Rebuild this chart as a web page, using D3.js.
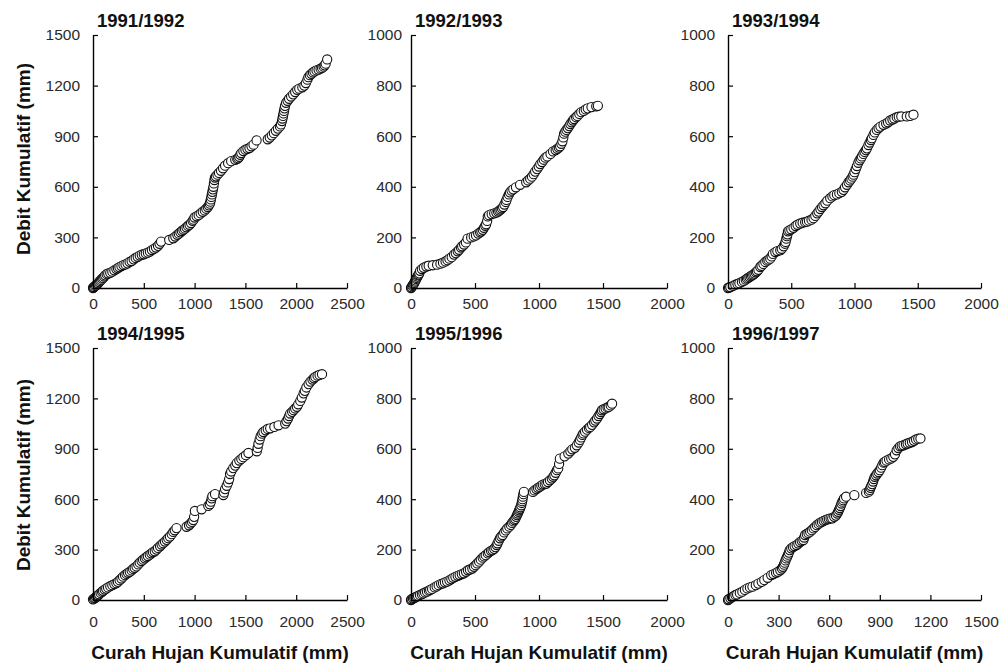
<!DOCTYPE html>
<html>
<head>
<meta charset="utf-8">
<script src="https://cdn.jsdelivr.net/npm/d3@7"></script>
<style>
  body { margin: 0; background: #fff; }
  svg { display: block; }
  .tick text { font-family: "Liberation Sans", Arial, sans-serif; font-size: 15.5px; fill: #2a2a2a; }
  .title, .alabel { font-family: "Liberation Sans", Arial, sans-serif; font-weight: bold; fill: #111; }
</style>
</head>
<body>
<script>
// [cumulative rainfall, cumulative discharge] in mm
var s9192 = [[0,0],[5,3],[10,6],[20,12],[30,15],[40,22],[50,28],[60,35],[70,42],[80,48],[90,55],[100,60],[110,68],[120,75],[135,82],[150,86],[170,90],[190,97],[210,105],[230,112],[245,118],[260,124],[280,130],[300,136],[320,140],[340,146],[360,155],[380,160],[400,170],[420,178],[440,185],[460,192],[480,197],[500,200],[520,205],[540,210],[560,216],[580,225],[600,232],[620,240],[640,250],[655,262],[670,275],[750,285],[790,295],[810,305],[830,315],[845,322],[860,330],[875,338],[890,345],[905,352],[920,360],[935,368],[950,375],[965,385],[980,398],[990,405],[1000,418],[1020,425],[1040,432],[1060,442],[1080,452],[1100,460],[1115,470],[1130,480],[1140,490],[1150,500],[1155,512],[1160,525],[1165,540],[1170,555],[1175,570],[1180,585],[1185,600],[1190,620],[1195,640],[1200,655],[1210,662],[1225,672],[1240,682],[1260,695],[1280,710],[1300,725],[1330,740],[1360,752],[1400,760],[1420,765],[1430,770],[1440,778],[1450,790],[1460,800],[1480,812],[1500,820],[1520,825],[1540,830],[1560,840],[1580,850],[1610,875],[1720,882],[1740,892],[1760,905],[1780,918],[1800,932],[1820,945],[1840,958],[1850,970],[1860,990],[1865,1005],[1870,1020],[1875,1035],[1880,1050],[1885,1065],[1890,1080],[1900,1098],[1915,1110],[1930,1122],[1950,1135],[1970,1148],[1990,1162],[2010,1175],[2030,1182],[2060,1190],[2080,1200],[2095,1215],[2110,1235],[2120,1250],[2135,1262],[2150,1270],[2165,1278],[2180,1284],[2200,1290],[2220,1295],[2240,1300],[2255,1305],[2270,1312],[2280,1320],[2290,1330],[2305,1355]];

var s9293 = [[0,0],[5,3],[10,8],[15,12],[20,15],[25,20],[30,25],[35,30],[40,36],[45,40],[50,45],[55,50],[60,53],[65,58],[71,68],[85,75],[100,80],[120,85],[138,88],[170,90],[204,92],[230,96],[250,100],[270,105],[285,110],[300,116],[318,122],[336,132],[350,138],[365,145],[376,151],[390,160],[400,165],[415,172],[429,180],[442,195],[470,200],[490,204],[508,208],[525,215],[540,220],[550,224],[561,230],[570,238],[580,246],[587,252],[595,265],[600,283],[610,288],[630,292],[650,295],[667,298],[680,302],[690,306],[700,310],[710,315],[720,320],[730,330],[740,340],[746,348],[755,360],[765,370],[773,378],[785,385],[799,390],[820,398],[852,408],[900,418],[915,425],[931,432],[945,440],[958,450],[970,460],[985,470],[998,480],[1010,490],[1025,498],[1037,507],[1050,515],[1065,520],[1090,530],[1110,540],[1130,545],[1143,550],[1155,555],[1165,560],[1175,570],[1183,580],[1190,595],[1196,610],[1205,618],[1215,625],[1225,632],[1236,640],[1245,648],[1255,655],[1265,662],[1275,668],[1290,675],[1300,680],[1315,688],[1330,695],[1350,700],[1365,706],[1381,710],[1410,715],[1447,718],[1460,720]];

var s9394 = [[0,0],[8,2],[18,4],[40,8],[58,13],[75,16],[90,19],[110,24],[125,28],[140,33],[150,37],[160,40],[170,43],[180,47],[190,50],[200,53],[210,57],[220,62],[229,66],[240,72],[255,83],[265,88],[280,95],[295,103],[310,108],[320,112],[334,116],[345,125],[355,135],[374,142],[390,146],[413,149],[425,155],[440,165],[450,175],[455,182],[461,195],[466,205],[470,212],[474,224],[485,228],[500,232],[518,238],[535,245],[550,250],[571,255],[590,258],[610,260],[624,262],[640,266],[660,270],[676,276],[690,285],[705,295],[716,302],[730,312],[743,320],[755,327],[770,335],[785,345],[808,355],[825,362],[840,367],[861,370],[880,375],[900,380],[913,388],[925,398],[940,408],[953,418],[965,425],[975,432],[985,440],[992,448],[1000,458],[1010,470],[1019,482],[1030,495],[1040,505],[1050,512],[1058,520],[1070,530],[1080,538],[1090,545],[1098,552],[1110,565],[1120,575],[1130,585],[1137,592],[1150,605],[1160,615],[1176,625],[1190,632],[1205,638],[1229,645],[1250,650],[1265,655],[1282,662],[1300,666],[1315,670],[1334,675],[1350,677],[1370,678],[1413,678],[1440,680],[1466,685]];

var s9495 = [[0,4],[10,8],[20,12],[30,18],[40,24],[50,28],[60,34],[75,42],[90,48],[99,55],[115,62],[130,68],[148,75],[170,82],[190,88],[210,95],[230,100],[245,108],[262,118],[280,128],[296,139],[315,148],[330,155],[345,162],[362,168],[380,176],[395,185],[410,192],[428,200],[445,212],[460,222],[478,232],[493,240],[510,248],[525,255],[540,262],[559,270],[575,278],[590,285],[608,290],[625,300],[640,310],[660,320],[675,330],[691,338],[708,348],[725,358],[740,368],[757,378],[775,392],[790,405],[805,415],[822,428],[921,436],[945,445],[960,455],[975,465],[987,476],[995,495],[1003,530],[1069,540],[1135,560],[1150,570],[1160,585],[1168,605],[1175,618],[1201,630],[1283,625],[1290,640],[1300,660],[1316,680],[1330,700],[1340,720],[1349,750],[1360,765],[1380,785],[1400,800],[1415,815],[1440,830],[1460,840],[1480,850],[1505,862],[1530,875],[1612,885],[1620,905],[1628,930],[1640,955],[1650,975],[1665,990],[1678,1000],[1700,1010],[1720,1018],[1744,1022],[1785,1030],[1826,1040],[1892,1050],[1905,1065],[1920,1080],[1930,1095],[1941,1110],[1960,1120],[1975,1130],[1990,1140],[2007,1150],[2020,1165],[2040,1185],[2055,1205],[2073,1230],[2085,1245],[2100,1265],[2122,1285],[2140,1300],[2160,1312],[2175,1320],[2188,1328],[2210,1335],[2230,1340],[2254,1344]];

var s9596 = [[0,0],[5,3],[15,6],[25,8],[35,11],[45,13],[55,16],[70,20],[85,23],[97,26],[110,30],[125,33],[140,37],[150,40],[165,44],[185,50],[200,54],[216,59],[235,64],[250,66],[265,70],[282,73],[300,78],[315,83],[330,88],[347,92],[365,96],[380,99],[397,103],[413,106],[430,112],[445,118],[460,121],[479,125],[492,132],[505,138],[518,145],[532,152],[545,160],[560,168],[572,173],[584,178],[600,185],[610,190],[625,195],[637,198],[650,203],[660,210],[670,218],[676,225],[685,235],[695,245],[705,252],[716,258],[728,268],[740,276],[752,284],[768,291],[780,298],[790,306],[800,312],[808,317],[815,322],[822,330],[828,337],[834,343],[840,350],[845,356],[850,362],[855,368],[861,376],[865,385],[868,392],[871,400],[874,410],[878,420],[882,429],[953,429],[965,435],[980,440],[992,445],[1005,449],[1018,454],[1030,458],[1045,460],[1058,462],[1070,468],[1085,475],[1100,482],[1111,489],[1120,495],[1130,505],[1140,515],[1150,522],[1157,540],[1163,561],[1200,570],[1229,581],[1245,590],[1260,598],[1280,604],[1295,614],[1310,625],[1320,635],[1330,645],[1340,655],[1347,661],[1360,668],[1375,676],[1390,683],[1400,687],[1415,695],[1430,705],[1440,712],[1453,720],[1465,730],[1475,738],[1485,746],[1492,753],[1505,757],[1520,760],[1535,764],[1545,766],[1560,772],[1571,779]];

var s9697 = [[0,0],[4,3],[14,7],[24,11],[34,15],[44,20],[54,22],[70,28],[85,33],[100,40],[115,46],[130,50],[145,53],[165,59],[180,65],[200,72],[215,79],[235,88],[256,99],[270,103],[285,108],[296,112],[310,118],[320,125],[326,132],[332,140],[336,148],[341,157],[346,165],[351,172],[356,180],[361,188],[366,198],[375,205],[385,210],[395,214],[407,218],[417,224],[427,230],[437,235],[447,238],[452,248],[457,258],[467,262],[477,266],[487,271],[497,277],[507,284],[517,290],[527,297],[537,302],[547,307],[557,310],[567,314],[578,317],[588,320],[598,322],[608,324],[618,324],[630,330],[640,335],[648,343],[653,350],[658,358],[663,365],[668,373],[673,383],[678,390],[683,396],[688,403],[700,410],[749,416],[819,425],[835,430],[840,437],[845,445],[849,452],[855,460],[860,470],[865,480],[870,489],[878,495],[885,502],[893,508],[900,515],[908,525],[915,535],[923,545],[930,548],[940,553],[955,558],[968,562],[980,568],[990,578],[1000,594],[1010,603],[1020,610],[1030,612],[1041,614],[1055,618],[1065,621],[1078,624],[1091,627],[1103,632],[1115,637],[1128,640],[1141,641]];

var titles = ["1991/1992", "1992/1993", "1993/1994", "1994/1995", "1995/1996", "1996/1997"];
var series = [s9192, s9293, s9394, s9495, s9596, s9697];

var xMax = [2500, 2000, 2000, 2500, 2000, 1500];
var yMax = [1500, 1000, 1000, 1500, 1000, 1000];
var xTicks = [[0,500,1000,1500,2000,2500], [0,500,1000,1500,2000], [0,500,1000,1500,2000],
              [0,500,1000,1500,2000,2500], [0,500,1000,1500,2000], [0,300,600,900,1200,1500]];
var yTicks = [[0,300,600,900,1200,1500], [0,200,400,600,800,1000], [0,200,400,600,800,1000],
              [0,300,600,900,1200,1500], [0,200,400,600,800,1000], [0,200,400,600,800,1000]];

var W = 1005, H = 671;
var svg = d3.select('body').append('svg').attr('width', W).attr('height', H);

// plot box for each column / row
var colX = [[93, 347], [411, 667], [728, 981]];
var rowY = [[35, 288], [348, 600]];
var xPad = [10, 16];
var yPad = [13, 9, 13];

titles.forEach(function(title, i) {
    var col = i % 3, row = Math.floor(i / 3);
    var x = d3.scaleLinear().domain([0, xMax[i]]).range(colX[col]);
    var y = d3.scaleLinear().domain([0, yMax[i]]).range([rowY[row][1], rowY[row][0]]);
    var g = svg.append('g');

    g.selectAll('circle')
        .data(series[i])
        .enter()
            .append('circle')
            .attr('cx', function(d) { return x(d[0]); })
            .attr('cy', function(d) { return y(d[1]); })
            .attr('r', 4.6)
            .attr('fill', '#fff')
            .attr('stroke', '#111')
            .attr('stroke-width', 1.1);

    var gx = g.append('g')
        .attr('transform', 'translate(0,' + rowY[row][1] + ')')
        .call(d3.axisBottom(x).tickValues(xTicks[i]).tickSizeInner(-5).tickSizeOuter(0)
            .tickPadding(xPad[row]).tickFormat(d3.format('d')));
    var gy = g.append('g')
        .attr('transform', 'translate(' + colX[col][0] + ',0)')
        .call(d3.axisLeft(y).tickValues(yTicks[i]).tickSizeInner(-5).tickSizeOuter(0)
            .tickPadding(yPad[col]).tickFormat(d3.format('d')));
    [gx, gy].forEach(function(a) {
        a.select('.domain').attr('stroke', '#000').attr('stroke-width', 1.4);
        a.selectAll('.tick line').attr('stroke', '#000').attr('stroke-width', 1.2);
    });

    g.append('text')
        .attr('class', 'title')
        .attr('x', colX[col][0] + 4)
        .attr('y', rowY[row][0] - 8)
        .style('font-size', '18.5px')
        .text(title);
});

// axis titles
[159, 475].forEach(function(cy) {
    svg.append('text')
        .attr('class', 'alabel')
        .attr('transform', 'translate(30,' + cy + ') rotate(-90)')
        .attr('text-anchor', 'middle')
        .style('font-size', '19px')
        .text('Debit Kumulatif (mm)');
});
colX.forEach(function(c) {
    svg.append('text')
        .attr('class', 'alabel')
        .attr('x', (c[0] + c[1]) / 2)
        .attr('y', 659)
        .attr('text-anchor', 'middle')
        .style('font-size', '19px')
        .text('Curah Hujan Kumulatif (mm)');
});
</script>
</body>
</html>
